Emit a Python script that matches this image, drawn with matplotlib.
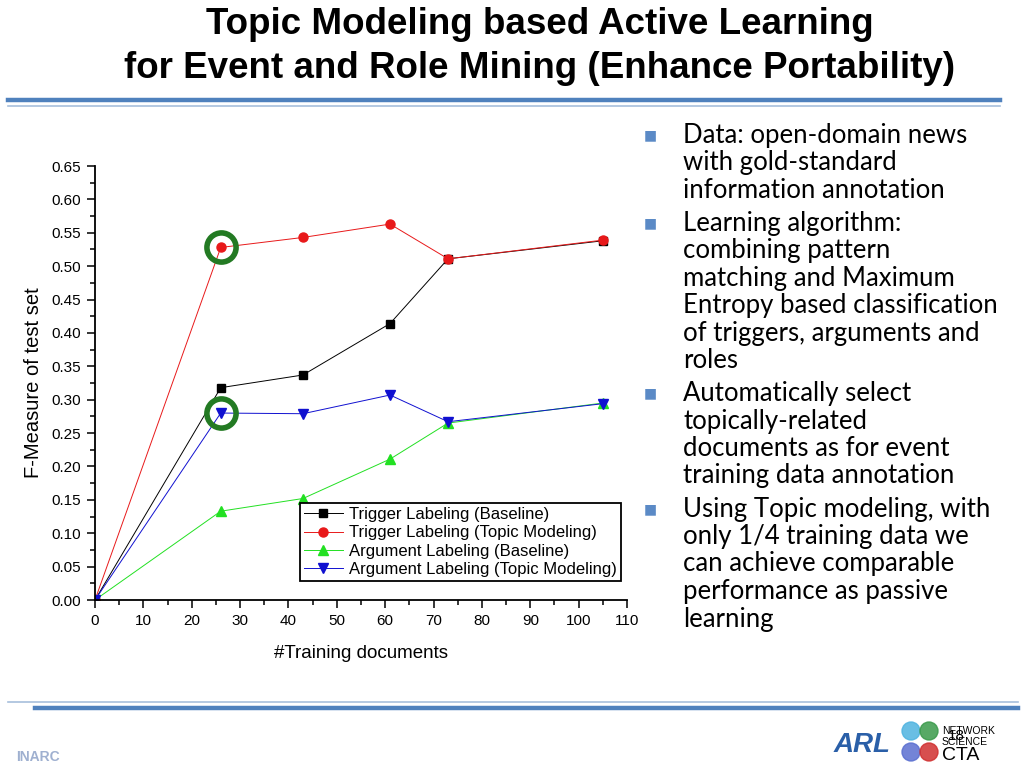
"""Slide recreation: topic-modeling active learning F-measure curves."""

import matplotlib
matplotlib.use("Agg")
import matplotlib.pyplot as plt
from matplotlib.lines import Line2D
from matplotlib.patches import Circle
from matplotlib.ticker import MultipleLocator

# --- data ---
train_docs = [0, 26, 43, 61, 73, 105]
trigger_base = [0.0, 0.318, 0.337, 0.414, 0.511, 0.538]
trigger_topic = [0.0, 0.528, 0.543, 0.563, 0.511, 0.539]
arg_base = [0.0, 0.133, 0.152, 0.211, 0.265, 0.295]
arg_topic = [0.0, 0.280, 0.279, 0.307, 0.267, 0.294]

highlight_x = [26, 26]
highlight_y = [0.528, 0.280]

title_lines = [
    "Topic Modeling based Active Learning",
    "for Event and Role Mining (Enhance Portability)",
]
bullets = [
    ["Data: open-domain news", "with gold-standard", "information annotation"],
    ["Learning algorithm:", "combining pattern", "matching and Maximum",
     "Entropy based classification", "of triggers, arguments and", "roles"],
    ["Automatically select", "topically-related", "documents as for event",
     "training data annotation"],
    ["Using Topic modeling, with", "only 1/4 training data we",
     "can achieve comparable", "performance as passive", "learning"],
]

W, H = 1024, 768
fig = plt.figure(figsize=(W / 100, H / 100), dpi=100)
fig.patch.set_facecolor("white")


def fx(px):
    return px / W


def fy(py):
    return 1 - py / H


# title
fig.text(fx(540), fy(24), title_lines[0], ha="center", va="center",
         fontsize=26.5, fontweight="bold", family="Liberation Sans")
fig.text(fx(540), fy(69), title_lines[1], ha="center", va="center",
         fontsize=26.5, fontweight="bold", family="Liberation Sans")

# separator lines
fig.add_artist(Line2D([fx(8), fx(1000)], [fy(100), fy(100)], color="#4f81bd", lw=3.2))
fig.add_artist(Line2D([fx(8), fx(1000)], [fy(105.5), fy(105.5)], color="#a7bfdc", lw=1.2))
fig.add_artist(Line2D([fx(8), fx(1018)], [fy(702), fy(702)], color="#a7bfdc", lw=1.2))
fig.add_artist(Line2D([fx(35), fx(1018)], [fy(708), fy(708)], color="#4f81bd", lw=3.2))

# main chart
ax = fig.add_axes([fx(95), fy(600), fx(627) - fx(95), fy(166) - fy(600)])
ax.plot(train_docs, trigger_base, color="black", lw=0.7, marker="s", ms=5.5,
        label="Trigger Labeling (Baseline)")
ax.plot(train_docs, trigger_topic, color="#e8191a", lw=0.7, marker="o", ms=6.5,
        label="Trigger Labeling (Topic Modeling)")
ax.plot(train_docs, arg_base, color="#22e022", lw=0.7, marker="^", ms=7,
        label="Argument Labeling (Baseline)")
ax.plot(train_docs, arg_topic, color="#1010d0", lw=0.7, marker="v", ms=7,
        label="Argument Labeling (Topic Modeling)")
ax.plot(highlight_x, highlight_y, ls="none", marker="o", ms=21, mfc="none",
        mec="#237a23", mew=4)

ax.set_xlim(0, 110)
ax.set_ylim(0, 0.65)
ax.xaxis.set_major_locator(MultipleLocator(10))
ax.xaxis.set_minor_locator(MultipleLocator(5))
ax.yaxis.set_major_locator(MultipleLocator(0.05))
ax.yaxis.set_minor_locator(MultipleLocator(0.025))
ax.yaxis.set_major_formatter(plt.FuncFormatter(lambda v, _: f"{v:.2f}"))
for side in ("top", "right"):
    ax.spines[side].set_visible(False)
ax.spines["left"].set_linewidth(1.3)
ax.spines["bottom"].set_linewidth(1.3)
ax.tick_params(which="major", length=6, width=1.1, labelsize=11, direction="out", pad=4)
ax.tick_params(which="minor", length=3.5, width=1.1, direction="out")
ax.set_xlabel("#Training documents", fontsize=13.5, family="Liberation Sans", labelpad=12)
ax.set_ylabel("F-Measure of test set", fontsize=14.5, family="Liberation Sans", labelpad=6)
for lab in ax.get_xticklabels() + ax.get_yticklabels():
    lab.set_family("Liberation Sans")

leg = ax.legend(loc="upper left", bbox_to_anchor=(fx(300), fy(503)),
                bbox_transform=fig.transFigure, fancybox=False, framealpha=1,
                edgecolor="black", prop={"family": "Liberation Sans", "size": 12},
                handlelength=2.3, borderpad=0.25, labelspacing=0.2,
                handletextpad=0.4, borderaxespad=0)
leg.get_frame().set_linewidth(1.3)

# bullet text
line_h = 27.5
gap = 5.5
y = 135
for items in bullets:
    fig.text(fx(650), fy(y), "\u25a0", ha="center", va="center", fontsize=10,
             color="#5b8ac6", family="DejaVu Sans")
    for line in items:
        fig.text(fx(683), fy(y), line, ha="left", va="center", fontsize=18.5,
                 family="Lato", color="black")
        y += line_h
    y += gap

# footer logos (simple stand-ins)
fig.text(fx(38), fy(757), "INARC", ha="center", va="center", fontsize=10,
         color="#9fb0d0", fontweight="bold", family="Liberation Sans")
fig.text(fx(862), fy(745), "ARL", ha="center", va="center", fontsize=20,
         color="#2a5fa8", fontweight="bold", fontstyle="italic", family="Liberation Sans")
for cx, cy, col in [(911, 731, "#4fb3e0"), (929, 731, "#3a9a4a"),
                    (911, 752, "#5a6fd0"), (929, 752, "#d03030")]:
    fig.add_artist(Circle((cx / 100, (H - cy) / 100), 0.09,
                          transform=fig.dpi_scale_trans, color=col, alpha=0.85))
fig.text(fx(942), fy(731), "NETWORK", ha="left", va="center", fontsize=7.5, family="Liberation Sans")
fig.text(fx(942), fy(742), "SCIENCE", ha="left", va="center", fontsize=7.5, family="Liberation Sans")
fig.text(fx(942), fy(756), "CTA", ha="left", va="center", fontsize=14, family="Liberation Sans")
fig.text(fx(956), fy(736), "18", ha="center", va="center", fontsize=11, family="Liberation Sans")

fig.savefig("out.png", dpi=100)
